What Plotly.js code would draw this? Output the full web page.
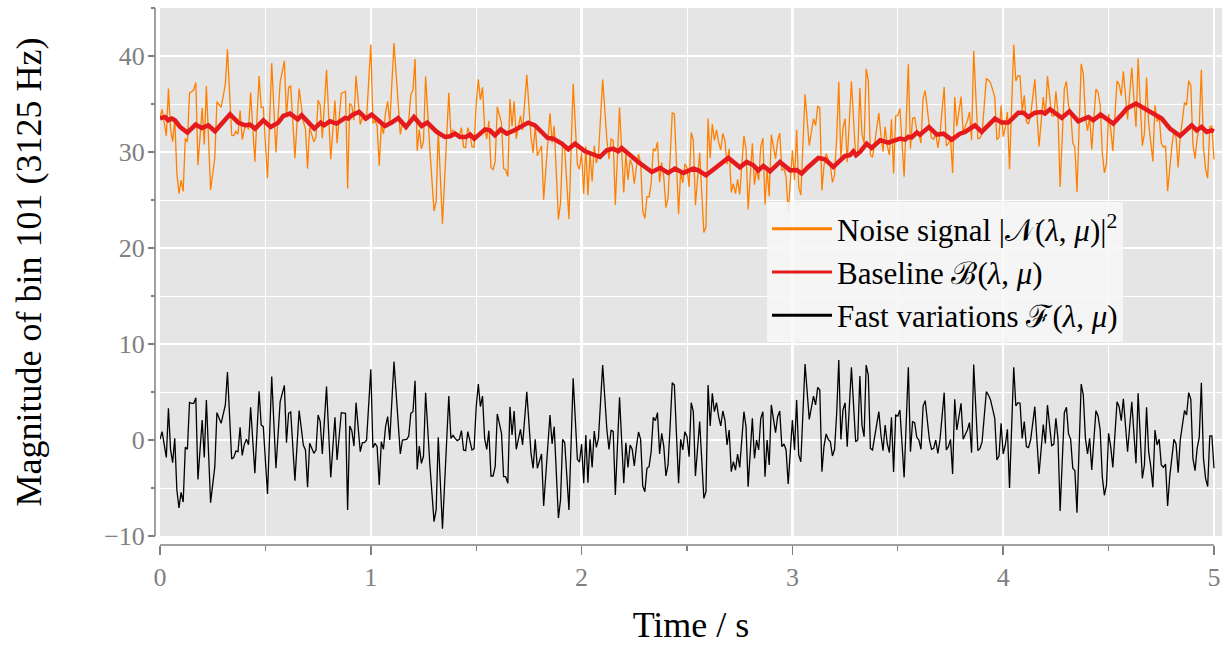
<!DOCTYPE html>
<html><head><meta charset="utf-8">
<script src="https://cdn.plot.ly/plotly-3.0.1.min.js"></script>
<style>html,body{margin:0;padding:0;background:#fff}#chart{width:1230px;height:646px}</style>
</head><body><div id="chart"></div>
<script>
const frameTime = [0.00,0.01,0.03,0.04,0.05,0.06,0.07,0.08,0.09,0.10,0.11,0.12,0.13,0.14,0.15,0.16,0.17,0.18,0.20,0.21,0.22,0.24,0.26,0.27,0.29,0.31,0.32,0.34,0.35,0.36,0.37,0.38,0.39,0.40,0.41,0.42,0.43,0.45,0.47,0.48,0.49,0.51,0.53,0.55,0.57,0.59,0.60,0.61,0.62,0.64,0.66,0.68,0.69,0.70,0.71,0.73,0.74,0.75,0.76,0.77,0.79,0.81,
0.83,0.84,0.86,0.88,0.89,0.90,0.91,0.92,0.93,0.95,0.96,0.97,0.98,1.00,1.01,1.02,1.03,1.04,1.05,1.06,1.07,1.08,1.09,1.11,1.14,1.15,1.17,1.18,1.19,1.20,1.21,1.22,1.23,1.24,1.25,1.26,1.28,1.30,1.31,1.32,1.34,1.37,1.38,1.39,1.40,1.41,1.42,1.43,1.44,1.45,1.46,1.47,1.48,1.49,1.50,1.51,1.52,1.53,1.54,1.55,1.56,1.57,1.58,1.59,1.60,1.62,1.63,1.64,1.65,
1.66,1.67,1.68,1.69,1.71,1.72,1.74,1.76,1.77,1.78,1.79,1.81,1.82,1.84,1.85,1.86,1.87,1.89,1.90,1.91,1.92,1.94,1.96,1.98,1.99,2.00,2.01,2.02,2.03,2.04,2.05,2.06,2.07,2.08,2.10,2.12,2.13,2.14,2.15,2.16,2.18,2.20,2.21,2.22,2.23,2.24,2.25,2.26,2.27,2.28,2.29,2.30,2.31,2.32,2.33,2.34,2.35,2.36,2.37,2.38,2.39,2.40,2.41,2.42,2.43,2.44,2.46,2.47,
2.48,2.49,2.50,2.51,2.52,2.53,2.54,2.56,2.58,2.59,2.60,2.61,2.62,2.63,2.64,2.65,2.66,2.67,2.68,2.69,2.70,2.71,2.72,2.73,2.74,2.75,2.77,2.78,2.79,2.81,2.82,2.83,2.84,2.85,2.86,2.87,2.88,2.89,2.90,2.92,2.93,2.94,2.95,2.96,2.97,2.98,2.99,3.00,3.01,3.02,3.03,3.04,3.06,3.08,3.10,3.11,3.12,3.13,3.14,3.15,3.16,3.17,3.18,3.19,3.20,3.21,3.22,3.23,3.24,3.25,3.26,3.28,3.30,3.31,
3.32,3.33,3.34,3.35,3.36,3.37,3.38,3.39,3.41,3.42,3.43,3.44,3.45,3.46,3.47,3.48,3.49,3.50,3.51,3.53,3.55,3.56,3.57,3.58,3.59,3.60,3.61,3.62,3.63,3.65,3.66,3.67,3.68,3.69,3.70,3.72,3.73,3.74,3.75,3.76,3.77,3.78,3.80,3.81,3.83,3.84,3.85,3.86,3.88,3.89,3.90,3.92,3.93,3.94,3.96,3.97,3.98,3.99,4.00,4.01,4.02,4.03,4.05,4.06,4.07,4.08,4.09,4.10,4.11,4.12,4.13,
4.15,4.17,4.19,4.20,4.21,4.23,4.24,4.25,4.26,4.27,4.29,4.30,4.31,4.32,4.33,4.34,4.35,4.37,4.38,4.39,4.40,4.41,4.42,4.44,4.45,4.46,4.47,4.48,4.49,4.50,4.51,4.52,4.54,4.55,4.56,4.57,4.59,4.61,4.62,4.63,4.64,4.65,4.66,4.67,4.68,4.69,4.70,4.71,4.72,4.73,4.74,4.75,4.76,4.77,4.78,4.79,4.80,4.81,4.82,4.83,4.84,4.85,4.86,4.87,4.88,4.89,4.90,4.91,4.92,4.93,4.94,4.95,4.96,4.97,4.98,4.99,5.00];

const noiseSignal = [33.57,34.43,31.69,36.6,32.43,31.07,33.48,27.79,25.67,27.08,25.9,31.43,31.05,36.15,36.27,36.48,37.25,28.62,34.59,30.79,36.87,26.04,29.4,35.25,34.64,37.05,40.71,31.77,31.69,32.15,31.86,34.32,31.3,32.35,32.87,32.34,36.2,28.98,37.92,34.63,34.67,27.27,39.28,29.95,37.29,39.49,33.59,36.73,36.89,29.36,36.61,33.13,32.41,28.27,32.55,31.06,31.56,35.4,34.91,31.44,38.56,29.26,
35.36,30.92,36.1,36.33,26.21,35.06,34.82,33.32,37.94,32.86,33.57,33.32,33.5,41.19,33.0,33.25,32.71,28.56,32.88,31.88,34.14,35.28,32.95,41.36,31.84,33.05,32.72,33.37,35.98,36.45,39.68,30.14,32.32,30.32,31.13,37.88,30.3,23.84,24.86,32.28,22.51,36.18,31.82,32.29,32.07,31.68,31.67,32.54,30.53,30.46,32.54,31.8,30.56,30.5,35.02,37.58,35.42,36.73,32.5,31.36,33.25,28.4,28.18,28.97,34.71,32.99,28.28,28.13,27.44,
35.52,32.67,35.27,31.38,33.76,32.28,38.03,31.56,29.9,32.82,29.6,30.64,25.02,31.11,34.03,30.98,32.72,22.97,24.7,30.87,30.32,23.01,37.12,28.69,28.21,29.93,25.64,30.57,25.51,29.92,26.93,30.64,28.84,29.7,37.56,31.22,29.26,31.34,31.22,24.47,34.64,25.79,29.87,27.1,29.23,28.63,26.69,28.46,29.78,28.87,23.86,23.07,25.35,25.32,26.73,30.34,30.11,31.05,26.84,28.89,27.36,24.2,25.23,29.41,34.07,33.98,23.54,27.99,
26.78,28.77,28.35,26.36,32.04,31.22,24.45,29.91,21.62,22.19,33.48,29.36,32.91,31.2,32.31,31.03,30.21,31.94,31.18,28.73,30.34,25.8,26.69,25.67,27.14,25.57,31.65,30.29,24.02,30.91,26.59,28.2,27.06,30.56,31.45,24.53,28.15,25.4,31.8,29.31,31.18,31.97,28.11,28.23,27.41,23.67,26.98,30.18,27.08,32.3,26.39,25.52,36.02,30.65,33.48,32.75,34.79,34.56,26.0,28.62,29.83,29.07,28.58,26.83,27.58,31.53,37.28,29.22,32.48,33.48,28.93,37.37,29.58,29.8,
36.67,31.86,30.9,38.66,37.47,29.68,29.46,30.87,34.05,31.72,30.04,32.66,30.65,29.68,33.41,27.77,33.75,33.8,34.52,27.43,39.14,30.33,33.51,33.61,32.28,31.9,30.93,35.64,36.4,32.6,31.48,31.33,31.95,30.43,31.85,36.78,30.66,30.86,31.47,27.81,35.74,32.69,35.77,32.12,33.24,34.16,31.23,40.55,31.39,31.43,31.98,37.63,37.49,37.22,35.71,31.27,31.53,34.84,31.6,32.54,34.17,28.2,41.17,37.39,37.94,37.92,34.27,35.91,33.16,32.9,33.8,
37.57,30.58,35.72,33.75,37.9,33.81,33.75,36.31,33.97,26.35,36.6,37.35,34.78,34.22,30.95,30.46,25.83,39.18,38.14,33.72,32.19,33.72,30.27,36.56,36.2,34.89,29.93,27.84,28.76,33.94,32.41,30.11,37.39,37.07,35.86,38.4,33.38,38.79,35.59,32.61,39.76,35.1,30.66,31.9,37.75,33.03,31.32,29.02,34.86,33.18,33.67,30.9,30.5,30.6,25.92,28.63,30.58,32.17,31.53,28.4,31.67,33.29,35.16,34.9,37.43,36.94,30.79,29.31,31.4,32.73,38.57,30.49,28.21,27.26,32.62,32.68,29.21];

const fastVariation = [0.07,0.87,-1.81,3.3,-0.97,-2.36,0.17,-5.21,-7.08,-5.45,-6.46,-0.76,-0.97,3.92,3.82,3.82,4.41,-4.1,2.08,-1.81,4.17,-6.53,-2.78,2.85,1.74,3.65,7.08,-1.98,-1.81,-1.15,-1.22,1.32,-1.6,-0.45,0.07,-0.49,3.4,-3.47,5.07,1.56,1.39,-5.63,6.6,-2.95,3.99,5.69,-0.28,2.78,2.92,-4.24,3.06,-0.52,-1.04,-4.93,-0.35,-1.39,-1.04,2.6,1.91,-1.46,5.56,-3.89,
2.36,-2.08,2.85,2.78,-7.29,1.46,0.97,-0.63,3.89,-1.22,-0.28,-0.28,0.0,7.36,-0.8,-0.35,-0.69,-4.69,-0.17,-0.97,1.39,2.43,0.0,8.16,-1.46,0.0,0.07,0.42,2.78,2.95,6.18,-3.06,-0.63,-2.43,-1.67,4.93,-2.5,-8.51,-7.29,0.28,-9.24,4.58,0.17,0.49,0.17,-0.07,0.07,0.97,-1.04,-1.11,0.87,0.0,-1.04,-0.9,3.47,5.83,3.47,4.58,0.17,-0.97,0.97,-3.75,-3.75,-2.78,2.71,0.69,-3.82,-3.82,-4.51,
3.47,0.52,3.02,-0.97,1.11,-0.52,5.03,-1.39,-2.95,0.07,-2.95,-1.46,-6.88,-0.35,2.6,-0.42,1.39,-8.13,-6.25,0.07,-0.28,-7.29,6.42,-2.01,-2.29,-0.42,-4.51,0.52,-4.44,0.07,-2.85,0.94,-0.76,0.17,7.81,1.04,-0.97,1.04,0.87,-5.73,4.44,-4.51,-0.28,-2.85,-0.52,-0.97,-2.71,-0.69,0.83,0.07,-4.79,-5.38,-2.95,-2.78,-1.22,2.36,2.01,2.85,-1.46,0.69,-0.69,-3.75,-2.6,1.46,5.97,5.73,-4.51,0.07,
-1.04,0.87,0.35,-1.74,3.89,2.95,-3.75,1.91,-6.08,-5.38,5.73,1.46,4.86,2.95,3.89,2.43,1.46,3.02,2.08,-0.52,1.04,-3.3,-2.26,-3.13,-1.46,-2.85,2.95,1.39,-4.86,2.26,-1.91,0.0,-1.04,2.26,2.95,-3.82,0.0,-2.6,3.65,0.76,2.43,3.02,-0.69,-0.42,-1.04,-4.58,-1.11,2.08,-1.04,4.17,-1.56,-2.26,7.92,2.15,4.58,3.65,5.49,5.21,-3.3,-0.63,0.63,0.07,-0.17,-1.67,-0.97,2.78,8.33,0.07,3.13,3.89,-0.69,7.57,-0.17,0.0,
6.67,1.56,0.35,7.81,6.77,-0.87,-1.04,0.17,2.95,0.52,-1.11,1.56,-0.35,-1.32,2.36,-3.33,2.6,2.5,3.13,-3.89,7.57,-1.22,1.91,1.81,0.28,0.0,-0.97,3.54,4.1,0.0,-0.97,-0.87,0.0,-1.39,0.0,4.93,-1.04,-0.69,0.07,-3.54,4.24,1.04,3.82,0.07,1.04,1.81,-1.32,7.85,-1.11,-0.87,-0.17,5.03,4.69,4.17,2.26,-2.08,-1.67,1.74,-1.46,-0.52,1.11,-5.0,7.57,3.54,3.89,3.82,0.17,1.91,-0.69,-0.8,0.0,
3.47,-3.54,1.6,-0.35,3.65,-0.59,-0.45,2.26,0.07,-7.4,2.85,3.4,0.63,0.07,-2.95,-3.19,-7.57,5.83,4.69,0.17,-1.46,0.17,-3.13,3.06,2.5,1.04,-3.82,-5.76,-4.69,0.69,-0.69,-2.85,3.99,3.47,2.01,4.3,-1.22,3.99,0.69,-2.43,4.86,0.35,-3.99,-2.6,3.4,-1.22,-2.78,-4.93,1.04,-0.52,0.07,-2.6,-2.85,-2.5,-6.88,-3.82,-1.67,0.07,-0.42,-3.4,0.0,1.39,3.06,2.6,4.93,4.24,-1.91,-3.19,-0.87,0.28,5.97,-1.91,-3.99,-4.86,0.42,0.42,-2.95];

const baselineTime = [0.000,0.024,0.039,0.056,0.071,0.095,0.130,0.169,0.198,0.229,0.261,0.332,0.371,0.403,0.427,0.451,0.490,0.525,0.561,0.585,0.617,0.653,0.672,0.732,0.762,0.778,0.806,0.838,0.878,0.893,0.914,0.945,0.977,1.004,1.067,1.099,1.130,1.167,1.205,1.241,1.268,1.313,1.352,1.376,1.399,1.423,1.452,1.471,1.491,1.542,1.565,1.589,1.616,1.645,1.681,1.708,1.747,1.779,1.839,1.866,1.906,1.937,1.969,2.016,2.056,2.087,2.119,2.150,2.174,2.190,2.269,2.333,2.372,2.411,2.443,2.482,2.530,2.554,2.590,2.696,2.751,2.783,2.815,2.838,2.862,2.894,2.941,2.989,3.020,3.044,3.075,3.123,3.155,3.194,3.250,3.273,3.289,3.302,3.321,3.352,3.376,3.416,3.455,3.479,3.510,3.534,3.550,3.566,3.590,3.605,3.648,3.685,3.716,3.756,3.795,3.819,3.866,3.898,3.961,3.993,4.024,4.072,4.095,4.119,4.151,4.183,4.198,4.222,4.246,4.278,4.314,4.356,4.404,4.427,4.462,4.499,4.522,4.562,4.586,4.630,4.673,4.720,4.752,4.791,4.839,4.894,4.918,4.941,4.965,4.989,5.000];
const baselineValue = [33.5,33.65,33.3,33.48,33.3,32.61,32.02,32.85,32.5,32.78,32.16,33.93,33.06,32.78,32.85,32.43,33.3,32.61,33.06,33.75,34.0,33.41,33.82,32.43,33.06,32.78,33.2,32.96,33.55,33.48,33.89,34.17,33.48,33.89,32.71,33.06,33.55,32.61,33.65,32.71,33.06,32.09,31.57,31.64,31.91,31.57,31.57,31.81,31.39,32.36,32.26,31.74,32.36,31.91,32.26,32.61,33.06,32.78,31.46,31.39,30.87,30.28,30.87,30.07,29.73,29.48,30.18,30.35,30.07,30.42,28.96,27.92,28.34,27.82,28.27,27.82,28.27,28.09,27.57,29.38,28.41,28.96,28.61,28.09,28.55,27.99,28.96,28.09,28.13,27.75,28.44,29.38,29.24,28.44,29.59,29.66,30.07,29.66,30.0,30.87,30.42,31.22,30.98,31.11,31.39,31.29,31.57,31.53,32.02,31.81,32.61,31.81,31.91,31.29,31.91,32.09,32.78,32.09,33.48,33.06,33.06,34.1,34.1,33.65,34.1,34.17,34.0,34.45,34.1,33.55,34.24,33.2,33.65,33.3,33.89,33.3,32.96,33.89,34.52,35.04,34.45,33.82,33.48,32.43,31.67,32.78,32.26,32.61,32.09,32.26,32.16];

const seriesNames = ['Noise signal |𝒩(<i>λ</i>, <i>μ</i>)|<sup>2</sup>', 'Baseline ℬ(<i>λ</i>, <i>μ</i>)', 'Fast variations ℱ(<i>λ</i>, <i>μ</i>)'];
const seriesColors = ['#ff7f00', '#e41a1c', '#000000'];
const xTickVals = [0, 1, 2, 3, 4, 5];
const xTickText = ['0', '1', '2', '3', '4', '5'];
const yTickVals = [-10, 0, 10, 20, 30, 40];
const yTickText = ['\u221210', '0', '10', '20', '30', '40'];

const FONT = '"Liberation Serif", "Times New Roman", serif';
const GREY = '#808080';

const traces = [
  {x: frameTime, y: noiseSignal, type: 'scatter', mode: 'lines', line: {color: seriesColors[0], width: 1.3}, showlegend: false, hoverinfo: 'skip'},
  {x: baselineTime, y: baselineValue, type: 'scatter', mode: 'lines', line: {color: seriesColors[1], width: 4.5}, showlegend: false, hoverinfo: 'skip'},
  {x: frameTime, y: fastVariation, type: 'scatter', mode: 'lines', line: {color: seriesColors[2], width: 1.3}, showlegend: false, hoverinfo: 'skip'}
];
seriesNames.forEach((n, i) => traces.push({x: [null], y: [null], type: 'scatter', mode: 'lines', name: n, legendgroup: 'g' + i, line: {color: seriesColors[i], width: 3}, showlegend: true}));

const L = 155, R = 8, T = 8, B = 101, W = 1230, H = 646;
const pw = W - L - R, ph = H - T - B;
const px = v => (v - L) / pw;           // pixel -> paper x
const py = v => (H - B - v) / ph;       // pixel -> paper y

const layout = {
  width: W, height: H,
  margin: {l: L, r: R, t: T, b: B, pad: 0},
  paper_bgcolor: '#ffffff', plot_bgcolor: '#e5e5e5',
  font: {family: FONT, color: '#000'},
  showlegend: true,
  xaxis: {
    domain: [px(160), 1], range: [0, (1222 - 160) / 210.8], anchor: 'free', position: 0,
    tickmode: 'array', tickvals: xTickVals, ticktext: xTickText,
    ticks: 'outside', ticklen: 9, tickwidth: 1.5, tickcolor: GREY,
    tickfont: {family: FONT, size: 26, color: GREY},
    showline: false, zeroline: false,
    showgrid: true, gridcolor: '#ffffff', gridwidth: 2.5,
    minor: {tickmode: 'linear', tick0: 0, dtick: 0.5, ticks: 'outside', ticklen: 5, tickwidth: 1.2, tickcolor: GREY, showgrid: true, gridcolor: '#ffffff', gridwidth: 1},
    title: {text: 'Time / s', font: {family: FONT, size: 36, color: '#000'}, standoff: 20}
  },
  yaxis: {
    domain: [py(536), 1], range: [-10, 45], anchor: 'free', position: 0,
    tickmode: 'array', tickvals: yTickVals, ticktext: yTickText,
    ticks: 'outside', ticklen: 7, tickwidth: 1.5, tickcolor: GREY,
    tickfont: {family: FONT, size: 26, color: GREY}, ticklabelstandoff: -2,
    showline: false, zeroline: false,
    showgrid: true, gridcolor: '#ffffff', gridwidth: 2.5,
    minor: {tickmode: 'linear', tick0: -10, dtick: 5, ticks: 'outside', ticklen: 4, tickwidth: 1.2, tickcolor: GREY, showgrid: true, gridcolor: '#ffffff', gridwidth: 1},
    title: {text: 'Magnitude of bin 101 (3125 Hz)', font: {family: FONT, size: 36, color: '#000'}, standoff: 50}
  },
  legend: {
    x: px(767), y: py(202), xanchor: 'left', yanchor: 'top',
    bgcolor: 'rgba(248,248,248,0.85)', borderwidth: 0,
    font: {family: FONT, size: 31, color: '#000'},
    tracegroupgap: 0, itemwidth: 60
  },
  shapes: [
    {type: 'line', xref: 'paper', yref: 'paper', x0: px(160), x1: px(1214), y0: 0, y1: 0, line: {color: GREY, width: 1.5}},
    {type: 'line', xref: 'paper', yref: 'paper', x0: 0, x1: 0, y0: py(536), y1: 1, line: {color: GREY, width: 1.5}}
  ]
};

Plotly.newPlot('chart', traces, layout, {staticPlot: true, displayModeBar: false});
</script>
</body></html>
